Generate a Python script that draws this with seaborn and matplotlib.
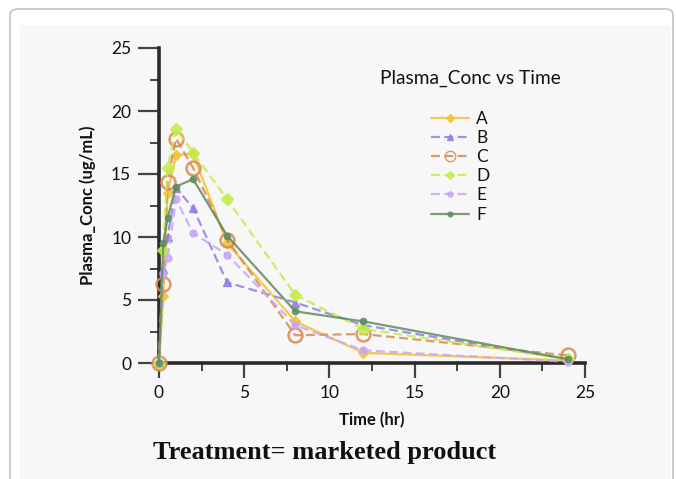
import matplotlib
matplotlib.use("Agg")
import matplotlib.pyplot as plt
from matplotlib.patches import FancyBboxPatch, Rectangle
from matplotlib.lines import Line2D
from matplotlib.ticker import MultipleLocator
import seaborn as sns
import pandas as pd

# ---- data ----
time_hr = [0, 0.25, 0.5, 1, 2, 4, 8, 12, 24]
series_names = ["A", "B", "C", "D", "E", "F"]
conc_A = [0, 5.3, 13.5, 16.5, 16.6, 9.5, 3.3, 0.8, 0.2]
conc_B = [0, 7.5, 10.0, 13.9, 12.3, 6.4, 4.8, 3.0, 0.3]
conc_C = [0, 6.3, 14.4, 17.8, 15.5, 9.8, 2.2, 2.3, 0.6]
conc_D = [0, 9.0, 15.5, 18.6, 16.7, 13.0, 5.4, 2.7, 0.3]
conc_E = [0, 7.1, 8.3, 13.0, 10.3, 8.6, 3.0, 1.0, 0.1]
conc_F = [0, 9.5, 11.5, 14.0, 14.6, 10.1, 4.1, 3.3, 0.3]
x_ticks = [0, 5, 10, 15, 20, 25]
y_ticks = [0, 5, 10, 15, 20, 25]

values = {"A": conc_A, "B": conc_B, "C": conc_C, "D": conc_D, "E": conc_E, "F": conc_F}
df = pd.DataFrame(
    [(n, t, v) for n in series_names for t, v in zip(time_hr, values[n])],
    columns=["Series", "Time", "Conc"],
)

colors = {"A": "#f2c232", "B": "#8f7fe6", "C": "#d9894e", "D": "#c3ec4a", "E": "#c9a6f4", "F": "#5f8c5f"}
markers = {"A": "D", "B": "^", "C": "o", "D": "D", "E": "o", "F": "o"}
msizes = {"A": 5, "B": 6, "C": 10, "D": 6, "E": 5, "F": 4.5}
lstyles = {"A": "-", "B": (0, (4, 2)), "C": (0, (4, 2)), "D": (0, (4, 2)), "E": (0, (4, 2)), "F": "-"}
mfaces = {"A": "#f2c232", "B": "#8f7fe6", "C": "none", "D": "#c3ec4a", "E": "#c9a6f4", "F": "#5f8c5f"}

sns.set_theme(style="white")
plt.rcParams["font.family"] = ["Lato", "DejaVu Sans"]

fig = plt.figure(figsize=(6.76, 4.79), dpi=100)
fig.patch.set_facecolor("white")
W, H = 676, 479
# outer rounded card
card = FancyBboxPatch((10 / W, -20 / H), 663 / W, (479 - 9 + 20) / H,
                      boxstyle="round,pad=0,rounding_size=0.012",
                      transform=fig.transFigure, facecolor="white",
                      edgecolor="#c4c4c4", linewidth=1.2, zorder=-2)
fig.patches.append(card)
inner = Rectangle((20 / W, 0), (671 - 20) / W, (479 - 25) / H,
                  transform=fig.transFigure, facecolor="#f7f7f7",
                  edgecolor="none", zorder=-1)
fig.patches.append(inner)

ax = fig.add_axes([159 / W, 1 - 363 / H, (585 - 159) / W, (363 - 48) / H])
ax.set_facecolor("#f7f7f7")

for n in series_names:
    sub = df[df["Series"] == n]
    sns.lineplot(data=sub, x="Time", y="Conc", ax=ax, color=colors[n],
                 linestyle=lstyles[n], linewidth=1.6, marker=markers[n],
                 markersize=msizes[n], markerfacecolor=mfaces[n],
                 markeredgecolor=colors[n], markeredgewidth=1.8 if n == "C" else 1.0,
                 alpha=0.85, legend=False, clip_on=False, zorder=3)

ax.set_xlim(0, 25)
ax.set_ylim(0, 25)
ax.set_xticks(x_ticks)
ax.set_yticks(y_ticks)
ax.xaxis.set_minor_locator(MultipleLocator(2.5))
ax.yaxis.set_minor_locator(MultipleLocator(2.5))
for s in ["top", "right"]:
    ax.spines[s].set_visible(False)
for s in ["left", "bottom"]:
    ax.spines[s].set_linewidth(2.6)
    ax.spines[s].set_color("#2a2a2a")
ax.tick_params(axis="y", which="major", direction="out", length=15, width=1.6,
               color="#444444", labelsize=12.5, pad=5, left=True)
ax.tick_params(axis="y", which="minor", direction="out", length=6.5, width=1.4,
               color="#444444", left=True)
ax.tick_params(axis="x", which="major", direction="out", length=11, width=1.6,
               color="#444444", labelsize=12.5, pad=5, bottom=True)
ax.tick_params(axis="x", which="minor", direction="out", length=5.5, width=1.4,
               color="#444444", bottom=True)
for lab in ax.get_xticklabels() + ax.get_yticklabels():
    lab.set_color("#111111")

ax.set_xlabel("Time (hr)", fontsize=12, fontweight="bold", labelpad=8, color="#111111")
ax.set_ylabel("Plasma_Conc (ug/mL)", fontsize=12, fontweight="bold", labelpad=11, color="#111111")

# legend
fig.text(470 / W, 1 - 78 / H, "Plasma_Conc vs Time", ha="center", va="center",
         fontsize=13.8, color="#111111")
handles = [Line2D([], [], color=colors[n], linestyle=lstyles[n], linewidth=1.6,
                  marker=markers[n], markersize=msizes[n] * 0.75,
                  markerfacecolor=mfaces[n], markeredgecolor=colors[n], alpha=0.85)
           for n in series_names]
leg = fig.legend(handles, series_names, loc="upper left",
                 bbox_to_anchor=(431 / W, 1 - 111 / H), frameon=False,
                 fontsize=12.5, handlelength=2.2, handletextpad=0.4,
                 labelspacing=0.18, borderpad=0, borderaxespad=0)
for t in leg.get_texts():
    t.set_color("#111111")

fig.text(325 / W, 1 - 453 / H, "Treatment= marketed product", ha="center", va="center",
         fontsize=19, fontweight="bold", family="Liberation Serif", color="#111111")

fig.savefig("out.png", dpi=100, facecolor="white")
